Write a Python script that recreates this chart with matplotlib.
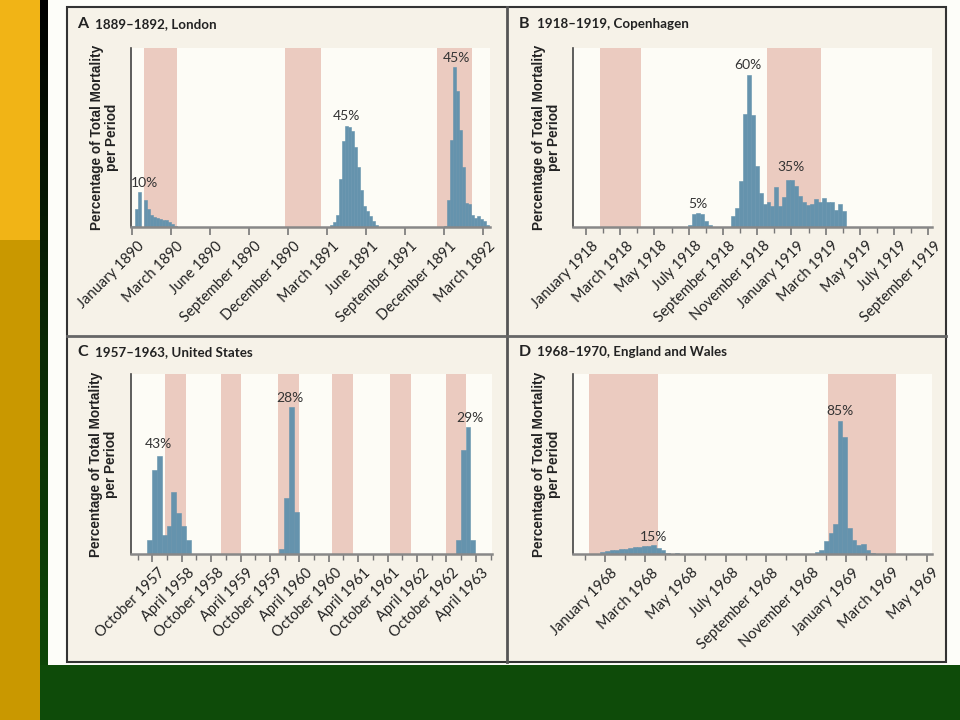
import matplotlib.pyplot as plt
import numpy as np
from matplotlib.patches import Rectangle
from matplotlib.colors import LinearSegmentedColormap

# ---- data (heights are relative, y axis has no scale) ----
# A: London 1889-1892, weekly, weeks since January 1890
a_starts = [0, 66, 104]
a_values = [
    [1.3, 18, 34.7, 0, 27, 18.3, 12, 10, 9, 8, 7.5, 7, 5, 3, 1.5],
    [2, 5, 12, 48, 86, 101, 100, 96, 80, 60, 37, 21, 16, 11, 6, 2.5],
    [1.3, 26.7, 87.3, 160, 135.7, 97.3, 60, 24, 23.3, 12.3, 9, 11.3, 8, 5.7, 2.3],
]
a_shades = [(4.1, 15.3), (51.3, 63.0), (101.7, 113.5)]
a_labels = ['January 1890', 'March 1890', 'June 1890', 'September 1890', 'December 1890',
            'March 1891', 'June 1891', 'September 1891', 'December 1891', 'March 1892']
a_notes = [('10%', 4.4, 43.7), ('45%', 71.7, 111), ('45%', 108.3, 168.7)]

# B: Copenhagen 1918-1919, weekly, weeks since January 1918
b_starts = [25.9, 36.7]
b_values = [
    [2.3, 13.3, 14, 12.7, 5.7, 1.7],
    [10.7, 19.3, 45.7, 113.3, 151.7, 111.7, 60.7, 34, 23.3, 25, 20.7, 40, 20.7, 30, 46.7,
     47.3, 40.7, 30.7, 25, 22.3, 22.7, 28.3, 25, 29, 25, 25, 16.7, 22.7, 15.7],
]
b_shades = [(3.5, 13.8), (45.9, 59.4)]
b_labels = ['January 1918', 'March 1918', 'May 1918', 'July 1918', 'September 1918',
            'November 1918', 'January 1919', 'March 1919', 'May 1919', 'July 1919',
            'September 1919']
b_notes = [('5%', 28.4, 22.7), ('60%', 41.1, 161.7), ('35%', 51.8, 60)]

# C: United States 1957-1963, monthly, months since October 1957
c_starts = [-1.1, 25.9, 61.9]
c_values = [
    [13.7, 83.7, 97.7, 18.7, 27.7, 62, 41, 27.7, 13.7],
    [5.3, 56, 146, 41.7],
    [13.7, 103.7, 126.3, 13.7],
]
c_shades = [(2.6, 6.8), (13.95, 18.1), (25.7, 30.0), (36.7, 40.9), (48.5, 52.8), (60.0, 63.9)]
c_labels = ['October 1957', 'April 1958', 'October 1958', 'April 1959', 'October 1959',
            'April 1960', 'October 1960', 'April 1961', 'October 1961', 'April 1962',
            'October 1962', 'April 1963']
c_notes = [('43%', 1.2, 109.4), ('28%', 28.1, 155.4), ('29%', 64.7, 135.4)]

# D: England and Wales 1968-1970, weekly, weeks since January 1968
d_starts = [-1, 45.2]
d_values = [
    [2, 3, 3.5, 4, 4.5, 5, 5.5, 6.5, 7, 7.7, 8.3, 8.7, 6, 3.7, 1.3, 0, 1],
    [2, 3.7, 12.7, 21, 29.7, 132.7, 116.3, 26, 13.7, 9.3, 10.3, 3.7, 1.3],
]
d_shades = [(-3.4, 11.5), (48.0, 62.7)]
d_labels = ['January 1968', 'March 1968', 'May 1968', 'July 1968', 'September 1968',
            'November 1968', 'January 1969', 'March 1969', 'May 1969']
d_notes = [('15%', 10.4, 17), ('85%', 50.6, 142.7)]

titles = [('A', '1889\u20131892, London'), ('B', '1918\u20131919, Copenhagen'),
          ('C', '1957\u20131963, United States'), ('D', '1968\u20131970, England and Wales')]

BLUE = '#6593ad'
PINK = '#ebcbc0'
W, H = 960, 720
WK = 52 / 12  # weeks per month


def px(x0, y0, x1, y1):
    return [x0 / W, 1 - y1 / H, (x1 - x0) / W, (y1 - y0) / H]


fig = plt.figure(figsize=(9.6, 7.2), dpi=100)
fig.patch.set_facecolor('#fdfdf9')


# slide decoration
def block(x0, y0, x1, y1, color, ec='none', lw=0):
    r = px(x0, y0, x1, y1)
    fig.patches.append(Rectangle((r[0], r[1]), r[2], r[3], transform=fig.transFigure,
                                 facecolor=color, edgecolor=ec, lw=lw, zorder=0))


block(0, 0, 40, 240, '#f1b416')
block(0, 240, 40, 720, '#c99800')
block(40, 665, 960, 720, '#0e4b09')
block(67, 7, 946, 662, '#f6f2e8', ec='#333333', lw=1.5)
fig.add_artist(plt.Line2D([507 / W, 507 / W], [1 - 662 / H, 1 - 7 / H], color='#555555',
                          lw=2, transform=fig.transFigure, zorder=1))
fig.add_artist(plt.Line2D([67 / W, 946 / W], [1 - 336 / H, 1 - 336 / H], color='#666666',
                          lw=2, transform=fig.transFigure, zorder=1))

bar_ax = fig.add_axes(px(40, 0, 48, 720))
grad = np.linspace(0, 1, 200).reshape(-1, 1)
bar_ax.imshow(grad, aspect='auto', extent=(0, 1, 1, 0),
              cmap=LinearSegmentedColormap.from_list('g', ['#000000', '#0a2a06', '#0e4b09']))
bar_ax.axis('off')


def draw_panel(rect, starts, values, shades, ticks, labels, minor, xlim, notes):
    ax = fig.add_axes(rect, zorder=3)
    ax.set_facecolor('#fdfcf6')
    for a, b in shades:
        ax.axvspan(a, b, color=PINK, lw=0, zorder=0)
    for s, vals in zip(starts, values):
        x = s + np.arange(len(vals))
        ax.bar(x, vals, width=1.0, align='edge', color=BLUE, edgecolor=BLUE, lw=0.4, zorder=2)
    ax.set_xlim(xlim)
    ax.set_ylim(0, 179)
    ax.set_xticks(ticks)
    ax.set_xticklabels([])
    ax.set_xticks(minor, minor=True)
    ax.set_yticks([])
    # rotated date labels, hung from the tick marks
    for t, lab in zip(ticks, labels):
        ax.annotate(lab, xy=(t, 0), xycoords=('data', 'axes fraction'), xytext=(4, -8.5),
                    textcoords='offset points', rotation=45, ha='right', va='top',
                    rotation_mode='anchor', fontsize=10.5, family='Lato', color='#222222',
                    annotation_clip=False)
    for s in ['top', 'right']:
        ax.spines[s].set_visible(False)
    ax.spines['left'].set_color('#444444')
    ax.spines['left'].set_linewidth(1.2)
    ax.spines['bottom'].set_color('#888888')
    ax.spines['bottom'].set_linewidth(1.8)
    ax.tick_params(axis='x', which='major', length=6, width=1.2, color='#777777')
    ax.tick_params(axis='x', which='minor', length=4.5, width=1.0, color='#777777')
    for txt, x, y in notes:
        ax.text(x, y, txt, ha='center', va='center', fontsize=10, color='#333333',
                family='Lato', zorder=3)
    ax.text(-0.075, 0.5, 'Percentage of Total Mortality\nper Period', transform=ax.transAxes,
            rotation=90, ha='center', va='center', multialignment='center', fontsize=9.8,
            fontweight='bold', family='Liberation Sans', color='#222222', linespacing=1.1)
    return ax


draw_panel(px(131, 48, 490, 227), a_starts, a_values, a_shades,
           np.arange(len(a_labels)) * 13, a_labels, [], (-0.2, 119.5), a_notes)
draw_panel(px(573, 48, 932, 227), b_starts, b_values, b_shades,
           np.arange(0, 21, 2) * WK, b_labels, np.arange(1, 20, 2) * WK, (-3.3, 87.6), b_notes)
draw_panel(px(131, 374, 492, 554), c_starts, c_values, c_shades,
           np.arange(0, 67, 6), c_labels, np.arange(-3, 70, 6), (-4.35, 69.3), c_notes)
draw_panel(px(573, 374, 932, 554), d_starts, d_values, d_shades,
           np.arange(0, 17, 2) * WK, d_labels, np.arange(-1, 16, 2) * WK, (-6.9, 70.5), d_notes)

# panel titles
for (letter, text), (x, y) in zip(titles, [(77, 24), (519, 24), (77, 352), (519, 352)]):
    fig.text(x / W, 1 - y / H, letter, ha='left', va='center', fontsize=11.5,
             fontweight='bold', family='Lato', color='#222222', zorder=4)
    fig.text((x + 18) / W, 1 - y / H, text, ha='left', va='center', fontsize=9.6,
             fontweight='bold', family='Lato', color='#222222', zorder=4)

fig.savefig('out.png', dpi=100, facecolor=fig.get_facecolor())
